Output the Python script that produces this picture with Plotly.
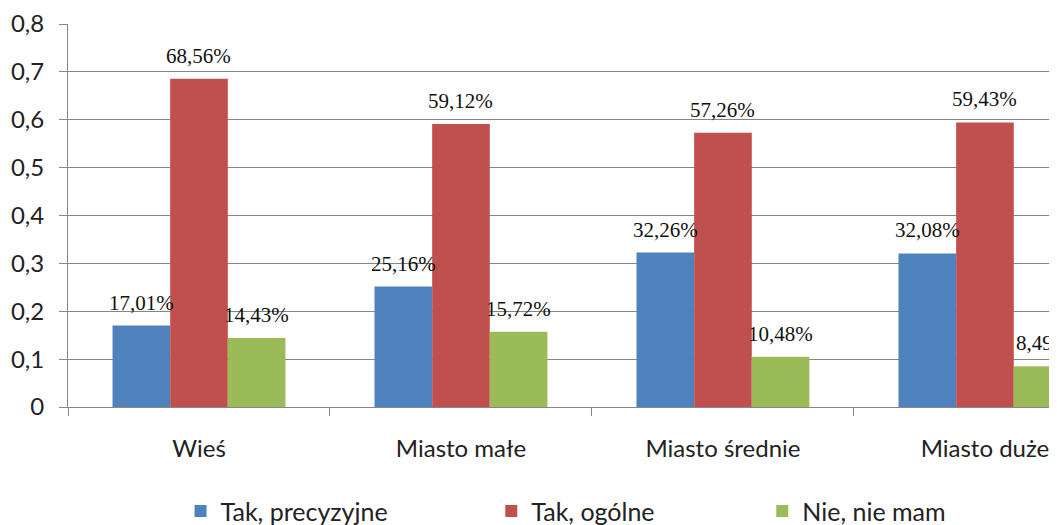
import plotly.graph_objects as go

categories = ["Wieś", "Miasto małe", "Miasto średnie", "Miasto duże"]
series_names = ["Tak, precyzyjne", "Tak, ogólne", "Nie, nie mam"]
tak_precyzyjne = [0.1701, 0.2516, 0.3226, 0.3208]
tak_ogolne = [0.6856, 0.5912, 0.5726, 0.5943]
nie_nie_mam = [0.1443, 0.1572, 0.1048, 0.0849]
label_precyzyjne = ["17,01%", "25,16%", "32,26%", "32,08%"]
label_ogolne = ["68,56%", "59,12%", "57,26%", "59,43%"]
label_nie = ["14,43%", "15,72%", "10,48%", "8,49%"]

colors = ["#4F81BD", "#C0504D", "#9BBB59"]
series = [tak_precyzyjne, tak_ogolne, nie_nie_mam]
labels = [label_precyzyjne, label_ogolne, label_nie]
legend_ids = ["legend", "legend2", "legend3"]
legend_x = [0.1138, 0.428, 0.702]

# page body has an 8px default margin, so figure coords = window coords - 8;
# figure sized to fit the remaining viewport exactly (no scrollbars)
W, H = 1049, 517
ML, MT, MB, MR = 60, 16, 118, 0
plot_w = W - ML - MR
cat_px = plot_w / 3.775
bargap = 0.34
bar_px = cat_px * (1 - bargap) / 3

fig = go.Figure()
for i, (name, vals) in enumerate(zip(series_names, series)):
    fig.add_trace(go.Bar(
        x=categories, y=vals, name=name,
        marker=dict(color=colors[i], line=dict(width=0)),
        legend=legend_ids[i],
        hoverinfo="skip",
    ))

annotations = []
for i, (vals, labs) in enumerate(zip(series, labels)):
    for c, v, t in zip(categories, vals, labs):
        annotations.append(dict(
            x=c, y=v, xref="x", yref="y", text=t, showarrow=False,
            xshift=(i - 1) * bar_px, yshift=23, yanchor="middle",
            font=dict(family="Liberation Serif", size=21, color="#111111"),
        ))

legend_common = dict(
    orientation="h", yanchor="middle", y=-0.272, xanchor="left",
    font=dict(family="Lato", size=25, color="#222222"),
    bgcolor="rgba(0,0,0,0)", itemclick=False, itemdoubleclick=False,
)

fig.update_layout(
    width=W, height=H,
    margin=dict(l=ML, r=MR, t=MT, b=MB, autoexpand=False),
    paper_bgcolor="white", plot_bgcolor="white",
    barmode="group", bargap=bargap, bargroupgap=0,
    separators=",.",
    font=dict(family="Lato", size=24, color="#222222"),
    annotations=annotations,
    legend=dict(x=legend_x[0], **legend_common),
    legend2=dict(x=legend_x[1], **legend_common),
    legend3=dict(x=legend_x[2], **legend_common),
    showlegend=True,
)
fig.update_xaxes(
    type="category", range=[-0.5, 3.275], automargin=False,
    showline=True, linecolor="#868686", linewidth=1,
    ticks="outside", tickson="boundaries", ticklen=8, tickcolor="#868686",
    showgrid=False, ticklabelstandoff=20,
    tickfont=dict(family="Lato", size=24, color="#222222"),
)
fig.update_yaxes(
    range=[0, 0.8], dtick=0.1, tick0=0, automargin=False,
    showline=True, linecolor="#868686", linewidth=1,
    ticks="outside", ticklen=8, tickcolor="#868686",
    showgrid=True, gridcolor="#868686", gridwidth=1,
    zeroline=False, ticklabelstandoff=10,
    tickfont=dict(family="Lato", size=24, color="#222222"),
)

fig.write_html("out.html")
